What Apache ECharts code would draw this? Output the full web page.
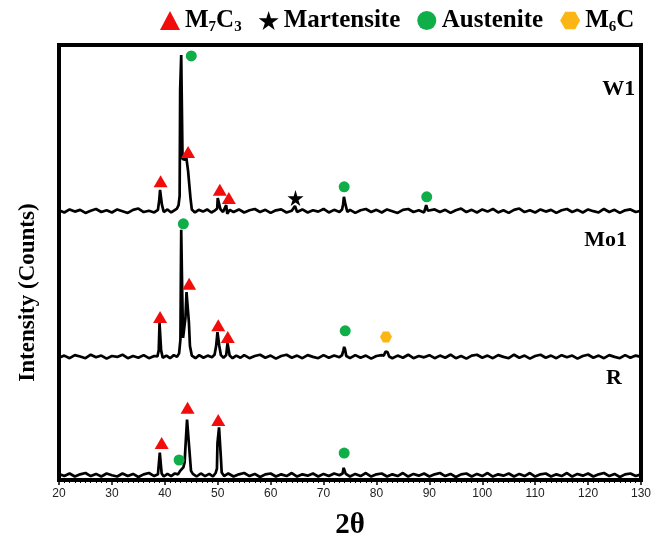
<!DOCTYPE html>
<html>
<head>
<meta charset="utf-8">
<script src="https://cdn.jsdelivr.net/npm/echarts@6/dist/echarts.min.js"></script>
<style>
  html, body { margin: 0; padding: 0; background: #fff; }
  #main { width: 662px; height: 545px; }
</style>
</head>
<body>
<div id="main"></div>
<script>
// stacking offsets of each pattern (same units as the y axis, 0..100)
const offsets = { W1: 61.8, Mo1: 28.3, R: 1.1 };

// [2θ, relative intensity]
const w1 = [
  [20,0.2],[21,-0.3],[22,0.4],[23,-0.1],[24,0.3],[25,-0.4],[26,0.1],[27,0.5],[28,-0.2],[29,0.2],
  [30,-0.3],[31,0.4],[32,0],[33,-0.4],[34,0.3],[35,0.6],[36,-0.2],[37,0.1],[38,-0.3],[38.7,0.3],
  [38.95,2.6],[39.1,4.9],[39.3,4.9],[39.45,1.5],[39.8,-0.2],[40.5,0.4],[41.2,-0.3],[41.8,0.2],[42.3,0.6],[42.6,1.4],
  [42.8,3.5],[42.9,27.9],[43.05,27.9],[43.1,35.9],[43.25,35.9],[43.35,12],[43.8,11.8],[43.95,13.4],[44.3,13.4],[44.4,9.2],
  [44.7,8.8],[44.85,3],[45.1,0.4],[45.7,-0.3],[46.4,0.3],[47.2,-0.1],[48,0.4],[48.8,-0.3],[49.5,0.2],[49.9,0.6],
  [50.0,3],[50.35,3],[50.5,0.5],[51,-0.2],[51.6,1.4],[51.8,-0.6],[52.3,0.3],[53,-0.2],[54,0.4],[55,-0.3],
  [56,0.2],[57,0.5],[58,-0.2],[59,0.3],[60,-0.4],[61,0.2],[62,0.4],[63,-0.3],[64,0.1],[64.6,1.2],
  [65,-0.2],[66,0.4],[67,-0.3],[68,0.2],[69,-0.1],[70,0.5],[71,-0.3],[72,0.3],[73,-0.2],[73.5,0.4],
  [73.7,1.6],[73.85,3.3],[74.0,3.3],[74.15,1.5],[74.5,-0.2],[75,0.3],[76,-0.4],[77,0.2],[78,0.5],[79,-0.2],
  [80,0.3],[81,-0.3],[82,0.4],[83,0],[84,-0.4],[85,0.3],[86,0.5],[87,-0.2],[88,0.2],[89,-0.3],
  [89.4,1.4],[89.7,0.1],[90,-0.3],[91,0.4],[92,-0.2],[93,0.3],[94,-0.4],[95,0.2],[96,0.6],[97,-0.2],
  [98,0.3],[99,-0.3],[100,0.4],[101,-0.1],[102,0.5],[103,-0.3],[104,0.2],[105,-0.4],[106,0.3],[107,0.6],
  [108,-0.2],[109,0.2],[110,-0.3],[111,0.4],[112,-0.1],[113,0.3],[114,-0.4],[115,0.2],[116,0.5],[117,-0.2],
  [118,0.3],[119,-0.3],[120,0.4],[121,0],[122,-0.3],[123,0.5],[124,-0.2],[125,0.3],[126,-0.4],[127,0.2],
  [128,0.4],[129,-0.2],[130,0.1]
];

const mo1 = [
  [20,-0.2],[21,0.3],[22,-0.3],[23,0.4],[24,0.1],[25,-0.3],[26,0.5],[27,-0.1],[28,0.3],[29,-0.4],
  [30,0.2],[31,0],[32,0.5],[33,-0.3],[34,0.2],[35,-0.2],[36,0.4],[37,-0.3],[38,0.2],[38.6,0.1],
  [38.85,1.5],[39.0,7.8],[39.15,7.8],[39.3,1.5],[39.6,-0.2],[40.3,0.3],[41,-0.3],[41.7,0.4],[42.3,0],[42.7,0.8],
  [42.95,4],[43.05,21.8],[43.1,29.2],[43.25,29.2],[43.3,14],[43.45,4.4],[43.7,4.6],[43.9,9],[44.1,14.9],[44.35,14.9],
  [44.55,8],[44.75,2.5],[45.1,0.3],[45.8,-0.3],[46.5,0.4],[47.3,-0.2],[48.1,0.3],[48.9,-0.1],[49.4,0.5],[49.7,2.5],
  [49.95,5.7],[50.1,5.5],[50.3,2.5],[50.6,0.4],[51.1,-0.2],[51.6,0.4],[51.85,3.2],[52.05,3.2],[52.25,0.3],[52.8,-0.3],
  [53.5,0.3],[54.3,-0.2],[55,0.4],[56,-0.3],[57,0.2],[58,0.5],[59,-0.2],[60,0.3],[61,-0.4],[62,0.2],
  [63,0.5],[64,-0.2],[65,0.3],[66,-0.3],[67,0.4],[68,0],[69,-0.3],[70,0.4],[71,-0.2],[72,0.3],
  [73,-0.1],[73.5,0.4],[73.75,1.5],[73.9,2.3],[74.05,1.8],[74.3,0.2],[75,-0.3],[76,0.4],[77,-0.2],[78,0.3],
  [79,-0.4],[80,0.2],[81,0.4],[81.4,0.3],[81.7,1.2],[81.9,1.6],[82.1,1.1],[82.4,0.1],[83,-0.3],[84,0.3],
  [85,-0.2],[86,0.5],[87,-0.3],[88,0.2],[89,-0.1],[90,0.4],[91,-0.3],[92,0.3],[93,-0.2],[94,0.5],
  [95,-0.3],[96,0.2],[97,-0.4],[98,0.3],[99,0.5],[100,-0.2],[101,0.3],[102,-0.3],[103,0.4],[104,0],
  [105,-0.3],[106,0.5],[107,-0.2],[108,0.3],[109,-0.4],[110,0.2],[111,0.5],[112,-0.2],[113,0.3],[114,-0.3],
  [115,0.4],[116,-0.1],[117,0.3],[118,-0.4],[119,0.2],[120,0.5],[121,-0.2],[122,0.3],[123,-0.3],[124,0.4],
  [125,0],[126,-0.3],[127,0.4],[128,-0.2],[129,0.3],[130,0]
];

const r = [
  [20,0.3],[21,-0.2],[22,0.4],[23,-0.3],[24,0.2],[25,0.5],[26,-0.2],[27,0.3],[28,-0.3],[29,0.4],
  [30,0],[31,-0.3],[32,0.4],[33,-0.2],[34,0.3],[35,-0.4],[36,0.2],[37,0.5],[38,-0.2],[38.7,0.2],
  [38.95,0.5],[39.05,5.2],[39.3,5.2],[39.4,0.4],[39.8,-0.3],[40.5,0.3],[41.2,-0.2],[41.9,0.4],[42.5,0.2],[42.9,1],
  [43.2,1.3],[43.5,1.8],[43.75,3],[43.9,6.5],[44.1,6.6],[44.2,12.8],[44.45,12.8],[44.6,6.5],[44.8,6.3],[44.95,1],
  [45.3,0.3],[46,-0.3],[46.8,0.4],[47.6,-0.2],[48.4,0.3],[49.1,-0.3],[49.6,0.5],[49.85,1.5],[49.95,7.4],[50.15,7.4],
  [50.25,11],[50.5,11],[50.6,4],[50.75,0.6],[51.2,-0.2],[52,0.4],[53,-0.3],[54,0.2],[55,0.5],[56,-0.2],
  [57,0.3],[58,-0.4],[59,0.2],[60,0.4],[61,-0.3],[62,0.2],[63,-0.2],[64,0.5],[65,-0.3],[66,0.2],
  [67,-0.1],[68,0.4],[69,-0.3],[70,0.3],[71,-0.2],[72,0.4],[73,0],[73.6,0.4],[73.8,1.7],[74.0,1.6],
  [74.2,0.3],[75,-0.3],[76,0.3],[77,-0.2],[78,0.5],[79,-0.3],[80,0.2],[81,0.4],[82,-0.3],[83,0.2],
  [84,-0.2],[85,0.5],[86,-0.3],[87,0.3],[88,-0.1],[89,0.4],[90,-0.3],[91,0.2],[92,0.5],[93,-0.2],
  [94,0.3],[95,-0.4],[96,0.2],[97,0.4],[98,-0.3],[99,0.3],[100,-0.2],[101,0.5],[102,-0.3],[103,0.2],
  [104,-0.1],[105,0.4],[106,-0.3],[107,0.3],[108,-0.2],[109,0.5],[110,-0.3],[111,0.2],[112,0.4],[113,-0.3],
  [114,0.2],[115,-0.2],[116,0.5],[117,-0.3],[118,0.3],[119,-0.1],[120,0.4],[121,-0.3],[122,0.2],[123,0.5],
  [124,-0.2],[125,0.3],[126,-0.4],[127,0.2],[128,0.4],[129,-0.2],[130,0.2]
];

// phase markers [2θ, y] (absolute positions on the stacked axis)
const m7c3 = [[39.2,68.7],[44.4,75.4],[50.4,66.7],[52.1,64.8],
              [39.1,37.5],[44.6,45.1],[50.1,35.6],[51.9,32.9],
              [39.4,8.5],[44.3,16.6],[50.1,13.8]];
const martensite = [[64.7,64.8]];
const austenite = [[45.0,97.5],[73.9,67.4],[89.5,65.1],
                   [43.5,58.9],[74.1,34.3],
                   [42.7,4.6],[73.9,6.2]];
const m6c = [[81.8,32.9]];

// sample names placed at right side
const sampleLabels = [
  { name: 'W1', value: [125.8, 89.7] },
  { name: 'Mo1', value: [123.3, 55.2] },
  { name: 'R', value: [124.9, 23.4] }
];

const serif = "'Liberation Serif', 'Times New Roman', serif";
const starPath = 'path://M50 0 L61 35 L98 35 L68 57 L79 91 L50 70 L21 91 L32 57 L2 35 L39 35 Z';
const hexPath = 'path://M25 0 L75 0 L100 43 L75 87 L25 87 L0 43 Z';

const legendText = {
  'M7C3': '{t|M}{s|7}{t|C}{s|3}',
  'Martensite': '{t|Martensite}',
  'Austenite': '{t|Austenite}',
  'M6C': '{t|M}{s|6}{t|C}'
};

let shift = (pts, off) => pts.map(p => [p[0], p[1] + off]);

let traceSeries = (name, pts) => ({
  name: name,
  type: 'line',
  data: shift(pts, offsets[name]),
  showSymbol: false,
  symbol: 'none',
  lineStyle: { color: '#000', width: 2.7 },
  itemStyle: { color: '#000' },
  z: 2,
  silent: true
});

let option = {
  animation: false,
  backgroundColor: '#fff',
  grid: {
    left: 59, right: 21, top: 45, bottom: 65,
    show: true, borderColor: '#000', borderWidth: 4,
    outerBoundsMode: 'none'
  },
  legend: {
    data: ['M7C3', 'Martensite', 'Austenite', 'M6C'],
    left: 155, top: 3,
    itemWidth: 20, itemHeight: 19, itemGap: 17,
    formatter: n => legendText[n],
    textStyle: {
      rich: {
        t: { fontFamily: serif, fontWeight: 'bold', fontSize: 25, color: '#000', lineHeight: 28 },
        s: { fontFamily: serif, fontWeight: 'bold', fontSize: 15, color: '#000', lineHeight: 15, verticalAlign: 'bottom' }
      }
    }
  },
  xAxis: {
    type: 'value', min: 20, max: 130, interval: 10,
    name: '2θ', nameLocation: 'middle', nameGap: 31,
    nameTextStyle: { fontFamily: serif, fontWeight: 'bold', fontSize: 29, color: '#000' },
    axisLine: { show: true, lineStyle: { color: '#000', width: 3 } },
    axisTick: { show: true, length: 5, lineStyle: { color: '#000', width: 1.5 } },
    minorTick: { show: true, splitNumber: 10, length: 3, lineStyle: { color: '#000', width: 1 } },
    axisLabel: { color: '#222', fontSize: 12, fontFamily: "'Liberation Sans', Arial, sans-serif", margin: 8 },
    splitLine: { show: false }
  },
  yAxis: {
    type: 'value', min: 0, max: 100,
    name: 'Intensity (Counts)', nameLocation: 'middle', nameRotate: 90, nameGap: 19,
    nameTextStyle: { fontFamily: serif, fontWeight: 'bold', fontSize: 23, color: '#000', padding: [0, 60, 0, 0] },
    axisLine: { show: false }, axisTick: { show: false },
    axisLabel: { show: false }, splitLine: { show: false }
  },
  series: [
    traceSeries('W1', w1),
    traceSeries('Mo1', mo1),
    traceSeries('R', r),
    {
      name: 'M7C3', type: 'scatter', data: m7c3, symbol: 'triangle', symbolSize: [14, 12],
      itemStyle: { color: '#f20d0d', opacity: 1 }, z: 5
    },
    {
      name: 'Martensite', type: 'scatter', data: martensite, symbol: starPath, symbolSize: 16,
      itemStyle: { color: '#000', opacity: 1 }, z: 5
    },
    {
      name: 'Austenite', type: 'scatter', data: austenite, symbol: 'circle', symbolSize: 11,
      itemStyle: { color: '#0fae49', opacity: 1 }, z: 5
    },
    {
      name: 'M6C', type: 'scatter', data: m6c, symbol: hexPath, symbolSize: [12, 11],
      itemStyle: { color: '#fbb614', opacity: 1 }, z: 5
    },
    {
      name: 'samples', type: 'scatter', data: sampleLabels, symbolSize: 0, silent: true,
      itemStyle: { opacity: 1 },
      label: {
        show: true, position: 'inside', formatter: '{b}',
        fontFamily: serif, fontWeight: 'bold', fontSize: 22, color: '#000'
      },
      z: 6
    }
  ]
};

var myChart = echarts.init(document.getElementById('main'));
myChart.setOption(option);
</script>
</body>
</html>
